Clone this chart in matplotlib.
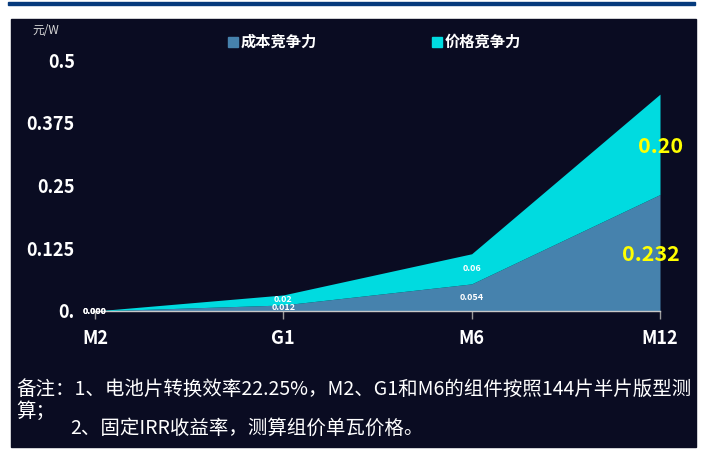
import matplotlib
matplotlib.use("Agg")
import matplotlib.pyplot as plt
from matplotlib.patches import Rectangle
import numpy as np

plt.rcParams['font.family'] = ['Noto Sans CJK SC', 'DejaVu Sans']

categories = ["M2", "G1", "M6", "M12"]
cost_values = [0.0, 0.012, 0.054, 0.232]
price_values = [0.0, 0.02, 0.06, 0.20]
cost_labels = ["0.000", "0.012", "0.054", "0.232"]
price_labels = ["0.000", "0.02", "0.06", "0.20"]
y_ticks = [0, 0.125, 0.25, 0.375, 0.5]
y_tick_labels = ["0.", "0.125", "0.25", "0.375", "0.5"]
series_names = ["成本竞争力", "价格竞争力"]
unit_label = "元/W"
note_line1 = "备注：1、电池片转换效率22.25%，M2、G1和M6的组件按照144片半片版型测"
note_line2 = "算；"
note_line3 = "2、固定IRR收益率，测算组价单瓦价格。"

W, H = 702, 459
fig = plt.figure(figsize=(W / 100, H / 100), dpi=100)
fig.patch.set_facecolor("white")

# top rule and dark panel
fig.patches.append(Rectangle((8 / W, 1 - 5 / H), 687 / W, 3 / H,
                             transform=fig.transFigure, color="#063a7c", zorder=-2))
fig.patches.append(Rectangle((11 / W, 1 - 447 / H), 685 / W, 428 / H,
                             transform=fig.transFigure, color="#0a0c22", zorder=-2))

x0, x1 = 93, 660
ytop, ybot = 60, 311
ax = fig.add_axes([x0 / W, 1 - ybot / H, (x1 - x0) / W, (ybot - ytop) / H])
ax.set_zorder(2)
ax.set_facecolor("none")

cost_color = "#4682ad"
price_color = "#00dbe0"
x = np.arange(len(categories))
cost = np.array(cost_values)
price = np.array(price_values)
ax.fill_between(x, 0, cost, color=cost_color, lw=0, zorder=2)
ax.fill_between(x, cost, cost + price, color=price_color, lw=0, zorder=2)

ax.set_xlim(-0.01, 3)
ax.set_ylim(0, 0.5)
for s in ["top", "right", "left"]:
    ax.spines[s].set_visible(False)
ax.spines["bottom"].set_color("#c8c8c8")
ax.spines["bottom"].set_linewidth(1)
ax.spines["bottom"].set_zorder(3)

ax.set_xticks(x)
ax.set_xticklabels(categories, fontsize=13, fontweight="bold", color="white")
ax.tick_params(axis="x", length=6, width=1, color="#9a9a9a", pad=7, direction="out")
ax.set_yticks(y_ticks)
ax.set_yticklabels(y_tick_labels, fontsize=13, fontweight="bold", color="white")
ax.tick_params(axis="y", length=0, pad=13)

# value labels centred in each band
for i in range(len(categories)):
    cmid = cost[i] / 2
    pmid = cost[i] + price[i] / 2
    if i == len(categories) - 1:
        ax.annotate(cost_labels[i], (x[i], cmid), xytext=(20, -2), textcoords="offset pixels",
                    ha="right", va="center", fontsize=15.5, fontweight="bold",
                    color="#ffff00", annotation_clip=False, zorder=5)
        ax.annotate(price_labels[i], (x[i], pmid), xytext=(23, -2), textcoords="offset pixels",
                    ha="right", va="center", fontsize=15.5, fontweight="bold",
                    color="#ffff00", annotation_clip=False, zorder=5)
    else:
        ax.annotate(cost_labels[i], (x[i], cmid), ha="center", va="center",
                    fontsize=6.5, fontweight="bold", color="white",
                    annotation_clip=False, zorder=5)
        ax.annotate(price_labels[i], (x[i], pmid), ha="center", va="center",
                    fontsize=6.5, fontweight="bold", color="white",
                    annotation_clip=False, zorder=5)

# legend
for (lx, name, col) in [(228, series_names[0], cost_color), (432, series_names[1], price_color)]:
    fig.patches.append(Rectangle((lx / W, 1 - 47 / H), 10 / W, 10 / H,
                                 transform=fig.transFigure, color=col, zorder=3))
    fig.text((lx + 13) / W, 1 - 42 / H, name, fontsize=11, fontweight="bold",
             color="white", ha="left", va="center")

fig.text(32 / W, 1 - 30 / H, unit_label, fontsize=8.5, color="#d8d8d8", ha="left", va="center")

fig.text(16 / W, 1 - 389 / H, note_line1, fontsize=14, color="white", ha="left", va="center")
fig.text(16 / W, 1 - 411 / H, note_line2, fontsize=14, color="white", ha="left", va="center")
fig.text(70 / W, 1 - 428 / H, note_line3, fontsize=14, color="white", ha="left", va="center")

fig.savefig("out.png", dpi=100, facecolor=fig.get_facecolor())
